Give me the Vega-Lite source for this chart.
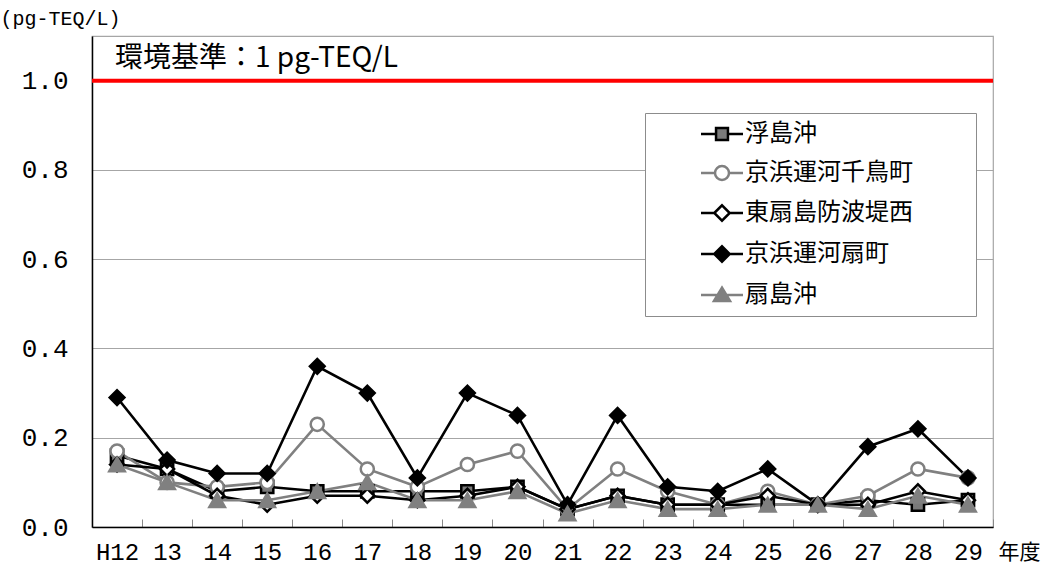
{
  "$schema": "https://vega.github.io/schema/vega-lite/v6.json",
  "width": 901,
  "height": 491,
  "autosize": {"type": "none"},
  "padding": {"left": 92, "top": 36, "right": 68, "bottom": 46},
  "background": "white",
  "config": {
    "view": {"stroke": "#a6a6a6", "strokeWidth": 1.2},
    "font": "Liberation Mono",
    "legend": {
      "orient": "none",
      "legendX": 553,
      "legendY": 77,
      "fillColor": "white",
      "strokeColor": "#8c8c8c",
      "padding": 9,
      "symbolOffset": 56,
      "symbolSize": 196,
      "symbolStrokeWidth": 2.5,
      "symbolOpacity": 1,
      "labelFont": "Noto Sans CJK JP",
      "labelFontSize": 24,
      "labelColor": "black",
      "labelOffset": 11,
      "labelLimit": 400,
      "rowPadding": 15
    }
  },
  "data": {
    "values": [
      {"year": "H12", "series": "浮島沖", "value": 0.16},
      {"year": "13", "series": "浮島沖", "value": 0.13},
      {"year": "14", "series": "浮島沖", "value": 0.08},
      {"year": "15", "series": "浮島沖", "value": 0.09},
      {"year": "16", "series": "浮島沖", "value": 0.08},
      {"year": "17", "series": "浮島沖", "value": 0.08},
      {"year": "18", "series": "浮島沖", "value": 0.08},
      {"year": "19", "series": "浮島沖", "value": 0.08},
      {"year": "20", "series": "浮島沖", "value": 0.09},
      {"year": "21", "series": "浮島沖", "value": 0.04},
      {"year": "22", "series": "浮島沖", "value": 0.07},
      {"year": "23", "series": "浮島沖", "value": 0.05},
      {"year": "24", "series": "浮島沖", "value": 0.05},
      {"year": "25", "series": "浮島沖", "value": 0.05},
      {"year": "26", "series": "浮島沖", "value": 0.05},
      {"year": "27", "series": "浮島沖", "value": 0.06},
      {"year": "28", "series": "浮島沖", "value": 0.05},
      {"year": "29", "series": "浮島沖", "value": 0.06},
      {"year": "H12", "series": "京浜運河千鳥町", "value": 0.17},
      {"year": "13", "series": "京浜運河千鳥町", "value": 0.10},
      {"year": "14", "series": "京浜運河千鳥町", "value": 0.09},
      {"year": "15", "series": "京浜運河千鳥町", "value": 0.10},
      {"year": "16", "series": "京浜運河千鳥町", "value": 0.23},
      {"year": "17", "series": "京浜運河千鳥町", "value": 0.13},
      {"year": "18", "series": "京浜運河千鳥町", "value": 0.09},
      {"year": "19", "series": "京浜運河千鳥町", "value": 0.14},
      {"year": "20", "series": "京浜運河千鳥町", "value": 0.17},
      {"year": "21", "series": "京浜運河千鳥町", "value": 0.04},
      {"year": "22", "series": "京浜運河千鳥町", "value": 0.13},
      {"year": "23", "series": "京浜運河千鳥町", "value": 0.08},
      {"year": "24", "series": "京浜運河千鳥町", "value": 0.05},
      {"year": "25", "series": "京浜運河千鳥町", "value": 0.08},
      {"year": "26", "series": "京浜運河千鳥町", "value": 0.05},
      {"year": "27", "series": "京浜運河千鳥町", "value": 0.07},
      {"year": "28", "series": "京浜運河千鳥町", "value": 0.13},
      {"year": "29", "series": "京浜運河千鳥町", "value": 0.11},
      {"year": "H12", "series": "東扇島防波堤西", "value": 0.14},
      {"year": "13", "series": "東扇島防波堤西", "value": 0.13},
      {"year": "14", "series": "東扇島防波堤西", "value": 0.07},
      {"year": "15", "series": "東扇島防波堤西", "value": 0.05},
      {"year": "16", "series": "東扇島防波堤西", "value": 0.07},
      {"year": "17", "series": "東扇島防波堤西", "value": 0.07},
      {"year": "18", "series": "東扇島防波堤西", "value": 0.06},
      {"year": "19", "series": "東扇島防波堤西", "value": 0.07},
      {"year": "20", "series": "東扇島防波堤西", "value": 0.09},
      {"year": "21", "series": "東扇島防波堤西", "value": 0.04},
      {"year": "22", "series": "東扇島防波堤西", "value": 0.07},
      {"year": "23", "series": "東扇島防波堤西", "value": 0.05},
      {"year": "24", "series": "東扇島防波堤西", "value": 0.05},
      {"year": "25", "series": "東扇島防波堤西", "value": 0.07},
      {"year": "26", "series": "東扇島防波堤西", "value": 0.05},
      {"year": "27", "series": "東扇島防波堤西", "value": 0.05},
      {"year": "28", "series": "東扇島防波堤西", "value": 0.08},
      {"year": "29", "series": "東扇島防波堤西", "value": 0.06},
      {"year": "H12", "series": "京浜運河扇町", "value": 0.29},
      {"year": "13", "series": "京浜運河扇町", "value": 0.15},
      {"year": "14", "series": "京浜運河扇町", "value": 0.12},
      {"year": "15", "series": "京浜運河扇町", "value": 0.12},
      {"year": "16", "series": "京浜運河扇町", "value": 0.36},
      {"year": "17", "series": "京浜運河扇町", "value": 0.30},
      {"year": "18", "series": "京浜運河扇町", "value": 0.11},
      {"year": "19", "series": "京浜運河扇町", "value": 0.30},
      {"year": "20", "series": "京浜運河扇町", "value": 0.25},
      {"year": "21", "series": "京浜運河扇町", "value": 0.05},
      {"year": "22", "series": "京浜運河扇町", "value": 0.25},
      {"year": "23", "series": "京浜運河扇町", "value": 0.09},
      {"year": "24", "series": "京浜運河扇町", "value": 0.08},
      {"year": "25", "series": "京浜運河扇町", "value": 0.13},
      {"year": "26", "series": "京浜運河扇町", "value": 0.05},
      {"year": "27", "series": "京浜運河扇町", "value": 0.18},
      {"year": "28", "series": "京浜運河扇町", "value": 0.22},
      {"year": "29", "series": "京浜運河扇町", "value": 0.11},
      {"year": "H12", "series": "扇島沖", "value": 0.14},
      {"year": "13", "series": "扇島沖", "value": 0.10},
      {"year": "14", "series": "扇島沖", "value": 0.06},
      {"year": "15", "series": "扇島沖", "value": 0.06},
      {"year": "16", "series": "扇島沖", "value": 0.08},
      {"year": "17", "series": "扇島沖", "value": 0.10},
      {"year": "18", "series": "扇島沖", "value": 0.06},
      {"year": "19", "series": "扇島沖", "value": 0.06},
      {"year": "20", "series": "扇島沖", "value": 0.08},
      {"year": "21", "series": "扇島沖", "value": 0.03},
      {"year": "22", "series": "扇島沖", "value": 0.06},
      {"year": "23", "series": "扇島沖", "value": 0.04},
      {"year": "24", "series": "扇島沖", "value": 0.04},
      {"year": "25", "series": "扇島沖", "value": 0.05},
      {"year": "26", "series": "扇島沖", "value": 0.05},
      {"year": "27", "series": "扇島沖", "value": 0.04},
      {"year": "28", "series": "扇島沖", "value": 0.07},
      {"year": "29", "series": "扇島沖", "value": 0.05}
    ]
  },
  "resolve": {"scale": {"shape": "independent", "stroke": "independent", "fill": "independent", "size": "independent"}},
  "layer": [
    {
      "mark": {"type": "line", "strokeWidth": 2.6},
      "encoding": {
        "x": {
          "field": "year",
          "type": "nominal",
          "scale": {"type": "band", "domain": ["H12","13","14","15","16","17","18","19","20","21","22","23","24","25","26","27","28","29"], "paddingInner": 0, "paddingOuter": 0},
          "axis": {
            "title": "年度",
            "labelAngle": 0,
            "tickBand": "extent",
            "tickSize": -8,
            "tickColor": "#888888",
            "tickWidth": 1,
            "domainColor": "black",
            "domainWidth": 1.5,
            "labelFont": "Liberation Mono",
            "labelFontSize": 24,
            "labelColor": "black",
            "labelPadding": 21,
            "titleFont": "Noto Sans CJK JP",
            "titleFontSize": 21,
            "titleFontWeight": "normal",
            "titleColor": "black",
            "titleX": 906,
            "titleY": 25,
            "titleAlign": "left",
            "titleBaseline": "middle"
          }
        },
        "y": {
          "field": "value",
          "type": "quantitative",
          "scale": {"domain": [0, 1.1], "nice": false, "zero": true},
          "axis": {
            "title": "(pg-TEQ/L)",
            "values": [0, 0.2, 0.4, 0.6, 0.8, 1.0],
            "format": ".1f",
            "ticks": false,
            "tickSize": 0,
            "domainColor": "black",
            "domainWidth": 1.5,
            "grid": true,
            "gridColor": "#a6a6a6",
            "gridWidth": 1,
            "labelFont": "Liberation Mono",
            "labelFontSize": 26,
            "labelColor": "black",
            "labelPadding": 24,
            "titleFont": "Liberation Mono",
            "titleFontSize": 20,
            "titleFontWeight": "normal",
            "titleColor": "black",
            "titleAngle": 0,
            "titleX": -92,
            "titleY": -18,
            "titleAlign": "left",
            "titleBaseline": "middle"
          }
        },
        "stroke": {
          "field": "series",
          "type": "nominal",
          "scale": {"domain": ["浮島沖","京浜運河千鳥町","東扇島防波堤西","京浜運河扇町","扇島沖"], "range": ["black","#808080","black","black","#808080"]},
          "legend": null
        }
      }
    },
    {
      "mark": {"type": "point", "strokeWidth": 2.5, "opacity": 1},
      "encoding": {
        "x": {"field": "year", "type": "nominal"},
        "y": {"field": "value", "type": "quantitative"},
        "shape": {
          "field": "series",
          "type": "nominal",
          "scale": {"domain": ["浮島沖","京浜運河千鳥町","東扇島防波堤西","京浜運河扇町","扇島沖"], "range": ["square","circle","diamond","diamond","triangle-up"]},
          "legend": null
        },
        "stroke": {
          "field": "series",
          "type": "nominal",
          "scale": {"domain": ["浮島沖","京浜運河千鳥町","東扇島防波堤西","京浜運河扇町","扇島沖"], "range": ["black","#808080","black","black","#808080"]},
          "legend": null
        },
        "fill": {
          "field": "series",
          "type": "nominal",
          "scale": {"domain": ["浮島沖","京浜運河千鳥町","東扇島防波堤西","京浜運河扇町","扇島沖"], "range": ["#7a7a7a","white","white","black","#808080"]},
          "legend": null
        },
        "size": {
          "field": "series",
          "type": "nominal",
          "scale": {"domain": ["浮島沖","京浜運河千鳥町","東扇島防波堤西","京浜運河扇町","扇島沖"], "range": [150, 240, 230, 230, 210]},
          "legend": null
        }
      }
    },
    {
      "mark": {"type": "point", "opacity": 0},
      "encoding": {
        "x": {"field": "year", "type": "nominal"},
        "y": {"field": "value", "type": "quantitative"},
        "shape": {
          "field": "series",
          "type": "nominal",
          "title": null,
          "legend": {"labelExpr": "datum.label + '⠀⠀⠀'"},
          "scale": {"domain": ["浮島沖","京浜運河千鳥町","東扇島防波堤西","京浜運河扇町","扇島沖"], "range": [
            "M-3,0H-0.85M0.85,0H3M-0.85,-0.85H0.85V0.85H-0.85Z",
            "M-3,0H-1M1,0H3M-1,0A1,1 0 1,0 1,0A1,1 0 1,0 -1,0Z",
            "M-3,0H-1.1M1.1,0H3M-1.1,0L0,-1.1L1.1,0L0,1.1Z",
            "M-3,0H-1.1M1.1,0H3M-1.1,0L0,-1.1L1.1,0L0,1.1Z",
            "M-3,0H3M0,-1.05L1.15,0.85H-1.15Z"
          ]}
        },
        "stroke": {
          "field": "series",
          "type": "nominal",
          "title": null,
          "legend": {"labelExpr": "datum.label + '⠀⠀⠀'"},
          "scale": {"domain": ["浮島沖","京浜運河千鳥町","東扇島防波堤西","京浜運河扇町","扇島沖"], "range": ["black","#808080","black","black","#808080"]}
        },
        "fill": {
          "field": "series",
          "type": "nominal",
          "title": null,
          "legend": {"labelExpr": "datum.label + '⠀⠀⠀'"},
          "scale": {"domain": ["浮島沖","京浜運河千鳥町","東扇島防波堤西","京浜運河扇町","扇島沖"], "range": ["#7a7a7a","white","white","black","#808080"]}
        }
      }
    },
    {
      "data": {"values": [{}]},
      "mark": {"type": "rule", "color": "#ff0000", "strokeWidth": 4},
      "encoding": {"y": {"datum": 1}}
    },
    {
      "data": {"values": [{}]},
      "mark": {"type": "text", "align": "left", "baseline": "middle", "dx": -2, "dy": -22, "font": "Noto Sans CJK JP", "fontWeight": "normal", "fontSize": 28, "color": "black"},
      "encoding": {
        "x": {"datum": "H12"},
        "y": {"datum": 1},
        "text": {"value": "環境基準：1 pg-TEQ/L"}
      }
    }
  ]
}
